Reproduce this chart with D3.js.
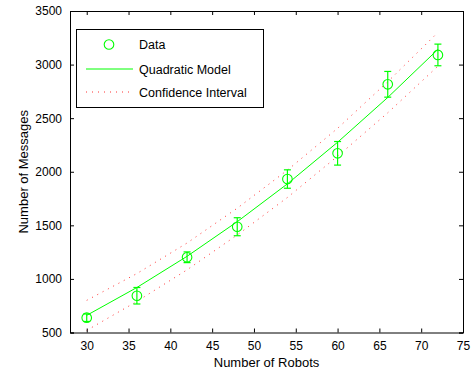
<!DOCTYPE html>
<html>
<head>
<meta charset="utf-8">
<script src="https://cdn.jsdelivr.net/npm/d3@7"></script>
<style>
  body { margin: 0; background: #fff; }
  text { font-family: "Liberation Sans", Arial, Helvetica, sans-serif; }
</style>
</head>
<body>
<svg width="473" height="373"></svg>
<script>
// robots used in each run
const robots = [30, 36, 42, 48, 54, 60, 66, 72];
// measured number of messages and error bar half-widths
const messages = [638, 843, 1202, 1487, 1932, 2172, 2816, 3090];
const errors = [35, 77, 50, 84, 86, 110, 120, 101];
// quadratic model and confidence interval
const model = [660, 920, 1211, 1534, 1887, 2275, 2693, 3142];
const upper = [800, 1050, 1335, 1660, 2015, 2405, 2840, 3300];
const lower = [520, 790, 1085, 1410, 1760, 2145, 2550, 2985];
const xTicks = [30, 35, 40, 45, 50, 55, 60, 65, 70, 75];
const yTicks = [500, 1000, 1500, 2000, 2500, 3000, 3500];
const legendItems = ['Data', 'Quadratic Model', 'Confidence Interval'];

const W = 473, H = 373;
const margin = {top: 11, right: 10, bottom: 40.5, left: 70};
const GREEN = '#00ff00', RED = '#ff0000';

const svg = d3.select('svg');

const x = d3.scaleLinear().domain([28, 75]).range([margin.left, W - margin.right]);
const y = d3.scaleLinear().domain([500, 3500]).range([H - margin.bottom, margin.top]);

const pts = robots.map((r, i) => ({r, m: messages[i], e: errors[i], f: model[i], u: upper[i], l: lower[i]}));

// confidence interval, dotted
const line = acc => d3.line().x(d => x(d.r)).y(d => y(acc(d)));
[d => d.u, d => d.l].forEach(acc => {
  svg.append('path')
    .datum(pts)
    .attr('d', line(acc))
    .attr('fill', 'none')
    .attr('stroke', RED)
    .attr('stroke-width', 1)
    .attr('stroke-dasharray', '1,5')
    .attr('opacity', 0.8);
});

// model line
svg.append('path')
  .datum(pts)
  .attr('d', line(d => d.f))
  .attr('fill', 'none')
  .attr('stroke', GREEN)
  .attr('stroke-width', 1);

// error bars
const eb = svg.append('g').attr('stroke', GREEN).attr('stroke-width', 1.2).attr('fill', 'none');
const cap = 3.5;
pts.forEach(d => {
  const cx = x(d.r), y0 = y(d.m - d.e), y1 = y(d.m + d.e);
  eb.append('line').attr('x1', cx).attr('x2', cx).attr('y1', y0).attr('y2', y1);
  eb.append('line').attr('x1', cx - cap).attr('x2', cx + cap).attr('y1', y0).attr('y2', y0);
  eb.append('line').attr('x1', cx - cap).attr('x2', cx + cap).attr('y1', y1).attr('y2', y1);
});

// data markers
svg.append('g').selectAll('circle')
  .data(pts)
  .join('circle')
  .attr('cx', d => x(d.r))
  .attr('cy', d => y(d.m))
  .attr('r', 4.8)
  .attr('fill', 'none')
  .attr('stroke', GREEN)
  .attr('stroke-width', 1.1);

// axes box with inward ticks on all sides
const tick = 4;
const axisFont = g => g.selectAll('text').attr('font-size', 12).attr('fill', '#000');
const gx = svg.append('g').attr('transform', `translate(0,${H - margin.bottom})`)
  .call(d3.axisBottom(x).tickValues(xTicks).tickSize(-tick).tickPadding(9).tickFormat(d3.format('d')));
gx.call(axisFont);
svg.append('g').attr('transform', `translate(0,${margin.top})`)
  .call(d3.axisTop(x).tickValues(xTicks).tickSize(-tick).tickFormat(''));
const gy = svg.append('g').attr('transform', `translate(${margin.left},0)`)
  .call(d3.axisLeft(y).tickValues(yTicks).tickSize(-tick).tickPadding(8).tickFormat(d3.format('d')));
gy.call(axisFont);
svg.append('g').attr('transform', `translate(${W - margin.right},0)`)
  .call(d3.axisRight(y).tickValues(yTicks).tickSize(-tick).tickFormat(''));
svg.selectAll('.domain').attr('stroke', '#000').attr('stroke-width', 1);
svg.selectAll('.tick line').attr('stroke', '#000');

// axis titles
svg.append('text')
  .attr('x', (margin.left + W - margin.right) / 2)
  .attr('y', 366.5)
  .attr('text-anchor', 'middle')
  .attr('font-size', 13)
  .text('Number of Robots');
svg.append('text')
  .attr('transform', `translate(28,${(margin.top + H - margin.bottom) / 2}) rotate(-90)`)
  .attr('text-anchor', 'middle')
  .attr('font-size', 13)
  .text('Number of Messages');

// legend
const lg = svg.append('g');
lg.append('rect')
  .attr('x', 76.5).attr('y', 29.5)
  .attr('width', 187).attr('height', 78)
  .attr('fill', '#fff').attr('stroke', '#000').attr('stroke-width', 1);
const rows = [44.5, 69, 92];
lg.append('circle').attr('cx', 109).attr('cy', rows[0]).attr('r', 4.8)
  .attr('fill', 'none').attr('stroke', GREEN).attr('stroke-width', 1.1);
lg.append('line').attr('x1', 86).attr('x2', 133).attr('y1', rows[1]).attr('y2', rows[1])
  .attr('stroke', GREEN).attr('stroke-width', 1);
lg.append('line').attr('x1', 86).attr('x2', 133).attr('y1', rows[2]).attr('y2', rows[2])
  .attr('stroke', RED).attr('stroke-width', 1).attr('stroke-dasharray', '1,5').attr('opacity', 0.8);
lg.selectAll('text.lbl')
  .data(legendItems)
  .join('text')
  .attr('class', 'lbl')
  .attr('x', 139)
  .attr('y', (d, i) => rows[i] + 4.5)
  .attr('font-size', 12.5)
  .text(d => d);
</script>
</body>
</html>
